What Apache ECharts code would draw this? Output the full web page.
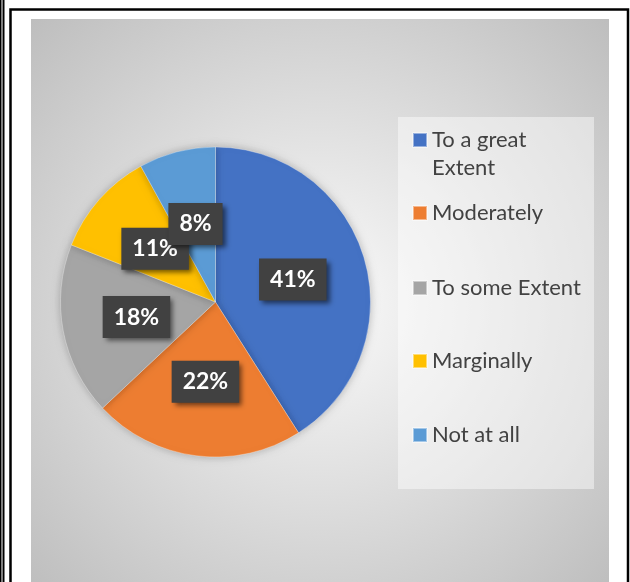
<!DOCTYPE html>
<html>
<head>
<meta charset="utf-8">
<script src="https://cdn.jsdelivr.net/npm/echarts@6/dist/echarts.min.js"></script>
<style>
html,body{margin:0;padding:0;background:#fff;}
#c{width:630px;height:582px;}
</style>
</head>
<body>
<div id="c"></div>
<script>
const categories = ['To a great Extent', 'Moderately', 'To some Extent', 'Marginally', 'Not at all'];
const values = [41, 22, 18, 11, 8];
const colors = ['#4472C4', '#ED7D31', '#A5A5A5', '#FFC000', '#5B9BD5'];

const legendCenters = [140, 213, 288, 361, 435];
const FONT = 'Lato, "Noto Sans", sans-serif';

const chart = echarts.init(document.getElementById('c'), null, {renderer: 'canvas'});

const legends = categories.map((name, i) => {
  const multi = i === 0;
  return {
    data: [name],
    orient: 'vertical',
    left: 412,
    top: multi ? legendCenters[i] - 42 : legendCenters[i] - 14,
    padding: 0,
    icon: 'rect',
    itemWidth: 14,
    itemHeight: 14,
    itemGap: 0,
    selectedMode: false,
    formatter: multi ? (n) => '\n' + n : '{name}',
    textStyle: {
      fontFamily: FONT,
      fontSize: 22,
      color: '#424242',
      lineHeight: 28,
      width: multi ? 140 : 220,
      overflow: 'break'
    }
  };
});

chart.setOption({
  animation: false,
  color: colors,
  graphic: [
    {type: 'line', shape: {x1: 0.5, y1: 0, x2: 0.5, y2: 582}, style: {stroke: '#000', lineWidth: 2}},
    {type: 'line', shape: {x1: 3.5, y1: 0, x2: 3.5, y2: 582}, style: {stroke: '#000', lineWidth: 2}},
    {type: 'rect', shape: {x: 10.5, y: 9.5, width: 617.5, height: 600}, style: {fill: '#fff', stroke: '#000', lineWidth: 2.5}, z: -10},
    {type: 'rect', shape: {x: 31, y: 19, width: 578, height: 570},
      style: {fill: new echarts.graphic.RadialGradient(0.5, 0.5, 0.72, [
        {offset: 0, color: '#fbfbfb'}, {offset: 1, color: '#bdbdbd'}])}, z: -9},
    {type: 'rect', shape: {x: 398, y: 117, width: 196, height: 372},
      style: {fill: 'rgba(255,255,255,0.45)'}, z: -8}
  ],
  legend: legends,
  series: [{
    type: 'pie',
    center: [215.5, 302],
    radius: 155,
    startAngle: 90,
    clockwise: true,
    percentPrecision: 0,
    avoidLabelOverlap: false,
    data: categories.map((n, i) => ({name: n, value: values[i]})),
    itemStyle: {borderColor: 'rgba(255,255,255,0.45)', borderWidth: 0.7,
      shadowColor: 'rgba(0,0,0,0.25)', shadowBlur: 8},
    labelLine: {show: false},
    emphasis: {disabled: true},
    labelLayout: {hideOverlap: false},
    label: {
      show: true,
      position: 'inside',
      formatter: '{d}%',
      fontFamily: FONT,
      fontWeight: 'bold',
      fontSize: 23,
      color: '#fff',
      lineHeight: 26,
      backgroundColor: '#414141',
      padding: [8, 11, 8, 11],
      shadowColor: 'rgba(0,0,0,0.55)',
      shadowBlur: 5,
      shadowOffsetX: 3,
      shadowOffsetY: 3,
      textShadowColor: 'transparent'
    }
  }]
});
</script>
</body>
</html>
